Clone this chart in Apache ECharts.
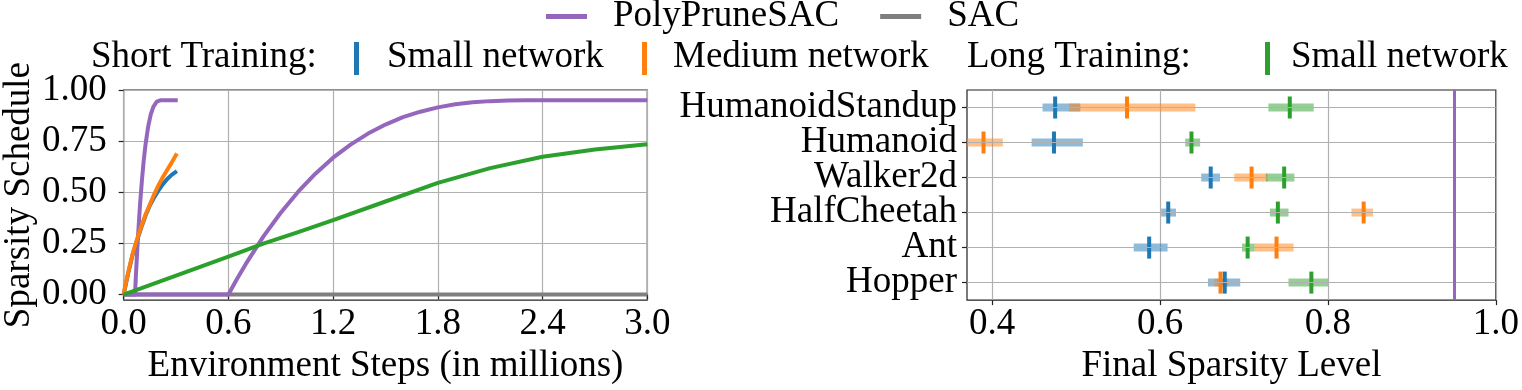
<!DOCTYPE html>
<html><head><meta charset="utf-8">
<script src="https://cdn.jsdelivr.net/npm/echarts@6/dist/echarts.min.js"></script>
<style>html,body{margin:0;padding:0;background:#fff}#c{width:1522px;height:390px}</style>
</head><body><div id="c"></div>
<script>
// ---- Left panel: sparsity schedules (x in millions of steps) ----
const sacX = [0, 3.0];
const sacY = [0, 0];
const polyShortX = [0, 0.065, 0.07, 0.075, 0.08, 0.085, 0.09, 0.095, 0.105, 0.115, 0.125, 0.14, 0.155, 0.17, 0.19, 0.21, 0.22, 0.31];
const polyShortY = [0, 0, 0.09, 0.172, 0.25, 0.322, 0.39, 0.452, 0.562, 0.655, 0.731, 0.819, 0.880, 0.918, 0.943, 0.9497, 0.95, 0.95];
const polyLongX = [0, 0.6, 0.65, 0.7, 0.8, 0.9, 1.0, 1.1, 1.2, 1.3, 1.4, 1.5, 1.6, 1.7, 1.8, 1.9, 2.0, 2.1, 2.2, 2.3, 2.4, 3.0];
const polyLongY = [0, 0, 0.077, 0.15, 0.283, 0.4, 0.503, 0.592, 0.669, 0.733, 0.787, 0.831, 0.867, 0.894, 0.915, 0.93, 0.94, 0.9456, 0.9487, 0.9498, 0.95, 0.95];
const shortSmallX = [0, 0.01, 0.025, 0.05, 0.075, 0.1, 0.125, 0.15, 0.175, 0.2, 0.225, 0.25, 0.275, 0.305];
const shortSmallY = [0, 0.04, 0.1, 0.19, 0.26, 0.325, 0.385, 0.435, 0.475, 0.51, 0.54, 0.565, 0.585, 0.603];
const shortMediumX = [0, 0.01, 0.025, 0.05, 0.075, 0.1, 0.125, 0.15, 0.175, 0.2, 0.225, 0.25, 0.275, 0.305];
const shortMediumY = [0, 0.045, 0.105, 0.195, 0.265, 0.33, 0.39, 0.44, 0.49, 0.535, 0.575, 0.61, 0.645, 0.69];
const longSmallX = [0, 0.3, 0.6, 0.8, 1.0, 1.2, 1.5, 1.8, 2.1, 2.4, 2.7, 3.0];
const longSmallY = [0, 0.093, 0.185, 0.249, 0.305, 0.364, 0.455, 0.546, 0.618, 0.674, 0.709, 0.735];
const leftXTicks = [0, 0.6, 1.2, 1.8, 2.4, 3.0];
const leftYTicks = [0, 0.25, 0.5, 0.75, 1.0];

// ---- Right panel: final sparsity level (bottom to top) ----
const envs = ['Hopper', 'Ant', 'HalfCheetah', 'Walker2d', 'Humanoid', 'HumanoidStandup'];
const blueMean = [0.677, 0.587, 0.6097, 0.6603, 0.4736, 0.475];
const blueLo   = [0.657, 0.5686, 0.6014, 0.649, 0.447, 0.460];
const blueHi   = [0.6955, 0.6089, 0.619, 0.6714, 0.508, 0.505];
const orangeMean = [0.672, 0.7387, 0.8425, 0.709, 0.3897, 0.5606];
const orangeLo   = [0.6647, 0.7126, 0.828, 0.6884, 0.366, 0.4914];
const orangeHi   = [0.681, 0.7589, 0.8536, 0.728, 0.4127, 0.642];
const greenMean = [0.7802, 0.7043, 0.7403, 0.7478, 0.6374, 0.7545];
const greenLo   = [0.753, 0.6976, 0.7308, 0.726, 0.630, 0.729];
const greenHi   = [0.800, 0.7126, 0.753, 0.760, 0.6477, 0.783];
const rightXTicks = [0.4, 0.6, 0.8, 1.0];
const finalTarget = 0.95;

const C = {blue:'#1f77b4', orange:'#ff7f0e', green:'#2ca02c', purple:'#9467bd', grey:'#7f7f7f', grid:'#b0b0b0', spine:'#222'};
const FONT = '"Liberation Serif", "Times New Roman", serif';
const FS = 37;
const zip = (xs, ys) => xs.map((x, i) => [x, ys[i]]);
const rows = (m, lo, hi) => m.map((v, i) => [i, v, lo[i], hi[i]]);

function lineSeries(name, xs, ys, color) {
  return {type:'line', name, xAxisIndex:0, yAxisIndex:0, data: zip(xs, ys), showSymbol:false, symbol:'none',
    lineStyle:{color, width:4, cap:'butt', join:'round'}, itemStyle:{color}, silent:true, z:2};
}
function markSeries(name, m, lo, hi, color) {
  return {type:'custom', name, xAxisIndex:1, yAxisIndex:1, data: rows(m, lo, hi), encode:{x:[1,2,3], y:0}, clip:true, z:3,
    renderItem(params, api) {
      const c = api.value(0);
      const pL = api.coord([api.value(2), c]);
      const pH = api.coord([api.value(3), c]);
      const pM = api.coord([api.value(1), c]);
      return {type:'group', children:[
        {type:'rect', z2:1, shape:{x:pL[0], y:pL[1]-4, width:pH[0]-pL[0], height:8}, style:{fill:color, opacity:0.5}},
        {type:'rect', z2:10, shape:{x:pM[0]-2, y:pM[1]-11, width:4, height:22}, style:{fill:color}}
      ]};
    }};
}

const axisTxt = {fontFamily:FONT, fontSize:FS, color:'#000'};
const txt = (text, x) => ({type:'text', x, y:57, style:{text, font:`${FS}px ${FONT}`, fill:'#000', align:'left', verticalAlign:'middle', textAlign:'left', textVerticalAlign:'middle'}});
const option = {
  animation:false,
  backgroundColor:'#fff',
  textStyle:{fontFamily:FONT},
  legend:{data:['PolyPruneSAC','SAC'], left:546, top:-2, padding:0, itemWidth:41, itemHeight:5, itemGap:41, icon:'rect',
    selectedMode:false, textStyle:{fontFamily:FONT, fontSize:FS, color:'#000', padding:[0,0,0,21]}},
  grid:[
    {left:116.7, top:90, width:530.6, height:214, show:true, borderColor:C.spine, borderWidth:1.2, backgroundColor:'transparent'},
    {left:967, top:90, width:531, height:214, show:true, borderColor:C.spine, borderWidth:1.2, backgroundColor:'transparent'}
  ],
  xAxis:[
    {gridIndex:0, type:'value', min:0, max:3, interval:0.6,
      axisLine:{show:false}, axisTick:{show:true, length:5, lineStyle:{color:C.spine, width:1.2}, customValues:leftXTicks},
      axisLabel:{...axisTxt, margin:6, customValues:leftXTicks, formatter:v=>v.toFixed(1)},
      splitLine:{show:true, lineStyle:{color:C.grid, width:1.2}},
      name:'Environment Steps (in millions)', nameLocation:'middle', nameGap:44, nameTextStyle:axisTxt},
    {gridIndex:1, type:'value', min:0.37, max:1.0,
      axisLine:{show:false}, axisTick:{show:true, length:5, lineStyle:{color:C.spine, width:1.2}, customValues:rightXTicks},
      axisLabel:{...axisTxt, margin:6, customValues:rightXTicks, formatter:v=>v.toFixed(1)},
      splitLine:{show:true, lineStyle:{color:C.grid, width:1.2}},
      name:'Final Sparsity Level', nameLocation:'middle', nameGap:44, nameTextStyle:axisTxt}
  ],
  yAxis:[
    {gridIndex:0, type:'value', min:-0.027, max:1.0,
      axisLine:{show:false}, axisTick:{show:true, length:5, lineStyle:{color:C.spine, width:1.2}, customValues:leftYTicks},
      axisLabel:{...axisTxt, margin:17, customValues:leftYTicks, formatter:v=>v.toFixed(2)},
      splitLine:{show:true, lineStyle:{color:C.grid, width:1.2}},
      name:'Sparsity Schedule', nameLocation:'middle', nameGap:84, nameRotate:90, nameTextStyle:axisTxt},
    {gridIndex:1, type:'category', data:envs, boundaryGap:true,
      axisLine:{show:false}, axisTick:{show:true, alignWithLabel:true, length:5, lineStyle:{color:C.spine, width:1.2}},
      axisLabel:{...axisTxt, margin:10, interval:0},
      splitLine:{show:false}}
  ],
  graphic:[
    txt('Short Training:', 91),
    {type:'rect', shape:{x:354, y:42, width:5, height:33}, style:{fill:C.blue}},
    txt('Small network', 387),
    {type:'rect', shape:{x:642, y:42, width:5, height:33}, style:{fill:C.orange}},
    txt('Medium network', 673),
    txt('Long Training:', 967),
    {type:'rect', shape:{x:1265, y:42, width:5, height:33}, style:{fill:C.green}},
    txt('Small network', 1291)
  ],
  series:[
    lineSeries('SAC', sacX, sacY, C.grey),
    lineSeries('PolyPruneSAC', polyLongX, polyLongY, C.purple),
    lineSeries('PolyPruneSAC', polyShortX, polyShortY, C.purple),
    lineSeries('Short Training: Small network', shortSmallX, shortSmallY, C.blue),
    lineSeries('Short Training: Medium network', shortMediumX, shortMediumY, C.orange),
    lineSeries('Long Training: Small network', longSmallX, longSmallY, C.green),
    {type:'line', name:'gridlines', xAxisIndex:1, yAxisIndex:1, data:[], silent:true, z:1,
      markLine:{silent:true, symbol:['none','none'], label:{show:false}, animation:false,
        lineStyle:{color:C.grid, width:1.2, type:'solid'},
        data: envs.map(e => ({yAxis:e})).concat([{xAxis:finalTarget, lineStyle:{color:C.purple, width:3, type:'solid'}}])}},
    markSeries('Short Training: Small network ', blueMean, blueLo, blueHi, C.blue),
    markSeries('Short Training: Medium network ', orangeMean, orangeLo, orangeHi, C.orange),
    markSeries('Long Training: Small network ', greenMean, greenLo, greenHi, C.green)
  ]
};
const chart = echarts.init(document.getElementById('c'), null, {renderer:'canvas'});
chart.setOption(option);
</script></body></html>
